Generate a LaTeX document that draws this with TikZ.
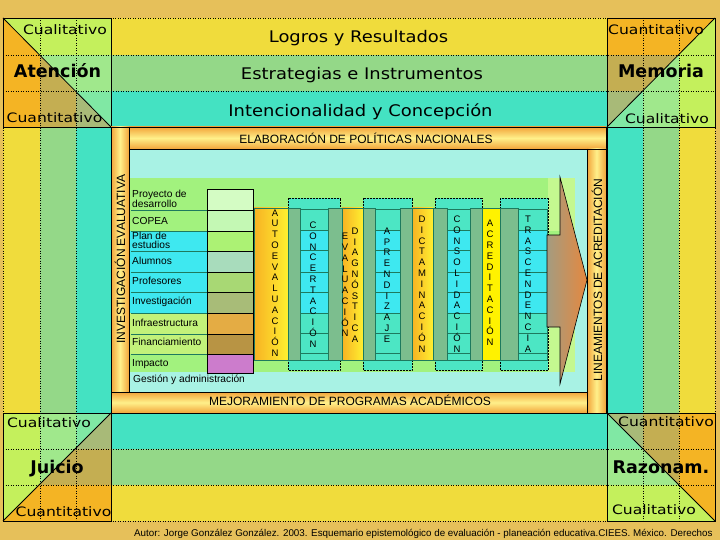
\documentclass[tikz,border=0pt]{standalone}
\usepackage{fontspec}
\setmainfont{DejaVu Sans}
\newfontfamily\arialf{Liberation Sans}
\usepackage{graphicx}
\newcommand{\wsc}[1]{\scalebox{1.2}[1]{#1}}
\newcommand{\wtt}[1]{\scalebox{1.12}[1]{#1}}
\definecolor{bgold}{HTML}{E6C05A}
\definecolor{bandY}{HTML}{F0DC3C}
\definecolor{bandG}{HTML}{94D888}
\definecolor{bandT}{HTML}{44E2C2}
\definecolor{oY}{HTML}{F4B424}
\definecolor{oG}{HTML}{C4AE52}
\definecolor{oT}{HTML}{A8BA78}
\definecolor{gY}{HTML}{C4F05C}
\definecolor{gG}{HTML}{A0E88C}
\definecolor{gT}{HTML}{80E8A4}
\definecolor{aquac}{HTML}{A8F2E4}
\definecolor{lgreen}{HTML}{A2F27E}
\definecolor{lyg}{HTML}{C2F27A}
\definecolor{lyg2}{HTML}{C4F890}
\definecolor{cyanb}{HTML}{3EE8F0}
\definecolor{turqc}{HTML}{4CE6C4}
\definecolor{dstrip}{HTML}{7CBE8E}
\definecolor{tealc}{HTML}{1E7A5E}
\definecolor{barO}{HTML}{F2A43A}
\definecolor{barY}{HTML}{FFF08A}
\definecolor{ycolL}{HTML}{F7B224}
\definecolor{ycolR}{HTML}{FFF030}
\definecolor{ycolP}{HTML}{FFF200}
\definecolor{arL}{HTML}{A49C80}
\definecolor{arR}{HTML}{E6883E}
\definecolor{sw1}{HTML}{D4FCC4}
\definecolor{sw2}{HTML}{C4F8B4}
\definecolor{sw3}{HTML}{ACF274}
\definecolor{sw4}{HTML}{A8DCBC}
\definecolor{sw5}{HTML}{A8D874}
\definecolor{sw6}{HTML}{A8BC78}
\definecolor{sw7}{HTML}{E4AC44}
\definecolor{sw8}{HTML}{B89444}
\definecolor{sw9}{HTML}{CC7CCC}
\begin{document}
\begin{tikzpicture}[x=1pt,y=-1pt,
  dotl/.style={draw=black, dotted, line width=0.5pt},
  frm/.style={draw=black, line width=0.8pt},
  titlet/.style={font=\fontsize{16}{18}\selectfont, anchor=base, inner sep=0pt},
  cornt/.style={font=\fontsize{13}{15}\selectfont, anchor=base, inner sep=0pt},
  boldt/.style={font=\bfseries\fontsize{17.5}{20}\selectfont, anchor=base, inner sep=0pt},
  bartxt/.style={font=\arialf\fontsize{12}{14}\selectfont, inner sep=0pt},
  labt/.style={font=\arialf\fontsize{10.2}{9.2}\selectfont, inner sep=0pt, align=left},
  lett/.style={font=\arialf\fontsize{9.5}{10.8}\selectfont, inner sep=0pt, align=center},
  foott/.style={font=\arialf\fontsize{9.8}{12}\selectfont, inner sep=0pt, anchor=base west},
  hbar/.style={frm, top color=barO, bottom color=barO, middle color=barY},
  vbar/.style={frm, left color=barO, right color=barO, middle color=barY},
  ycol/.style={draw=tealc, line width=0.6pt, left color=ycolL, right color=ycolR},
  dcol/.style={draw=tealc, line width=0.6pt, fill=dstrip},
  rcol/.style={draw=tealc, line width=0.6pt, fill=turqc},
  dbox/.style={draw=black, densely dotted, line width=0.5pt, fill=turqc},
  swt/.style={draw=black, line width=0.6pt},
  rowl/.style={draw=tealc, line width=0.6pt}
]
\useasboundingbox (0,0) rectangle (720,540);
\fill[bgold] (0,0) rectangle (720,540);

% ---- bands
\fill[bandY] (111,18) rectangle (607,55);
\fill[bandG] (111,55) rectangle (607,91);
\fill[bandT] (111,91) rectangle (607,127);
\fill[bandT] (111,413) rectangle (607,449);
\fill[bandG] (111,449) rectangle (607,485);
\fill[bandY] (111,485) rectangle (607,521);
\fill[bandY] (3,127) rectangle (40,413);
\fill[bandG] (40,127) rectangle (76,413);
\fill[bandT] (76,127) rectangle (111,413);
\fill[bandT] (607,127) rectangle (643,413);
\fill[bandG] (643,127) rectangle (679,413);
\fill[bandY] (679,127) rectangle (715,413);

% ---- corner top-left
\begin{scope}
\clip (3,18) -- (3,127) -- (111,127) -- cycle;
\fill[oY] (3,18) rectangle (40,127);
\fill[oG] (40,18) rectangle (76,127);
\fill[oT] (76,18) rectangle (111,127);
\end{scope}
\begin{scope}
\clip (3,18) -- (111,18) -- (111,127) -- cycle;
\fill[gY] (3,18) rectangle (111,55);
\fill[gG] (3,55) rectangle (111,91);
\fill[gT] (3,91) rectangle (111,127);
\end{scope}
% ---- corner top-right
\begin{scope}
\clip (607,18) -- (715,18) -- (607,127) -- cycle;
\fill[oY] (607,18) rectangle (715,55);
\fill[oG] (607,55) rectangle (715,91);
\fill[oT] (607,91) rectangle (715,127);
\end{scope}
\begin{scope}
\clip (715,18) -- (715,127) -- (607,127) -- cycle;
\fill[gT] (607,18) rectangle (643,127);
\fill[gG] (643,18) rectangle (679,127);
\fill[gY] (679,18) rectangle (715,127);
\end{scope}
% ---- corner bottom-left
\begin{scope}
\clip (3,413) -- (111,413) -- (3,521) -- cycle;
\fill[gY] (3,413) rectangle (40,521);
\fill[gG] (40,413) rectangle (76,521);
\fill[gT] (76,413) rectangle (111,521);
\end{scope}
\begin{scope}
\clip (111,413) -- (111,521) -- (3,521) -- cycle;
\fill[oT] (3,413) rectangle (111,449);
\fill[oG] (3,449) rectangle (111,485);
\fill[oY] (3,485) rectangle (111,521);
\end{scope}
% ---- corner bottom-right
\begin{scope}
\clip (607,413) -- (715,413) -- (715,521) -- cycle;
\fill[oT] (607,413) rectangle (643,521);
\fill[oG] (643,413) rectangle (679,521);
\fill[oY] (679,413) rectangle (715,521);
\end{scope}
\begin{scope}
\clip (607,413) -- (607,521) -- (715,521) -- cycle;
\fill[gT] (607,413) rectangle (715,449);
\fill[gG] (607,449) rectangle (715,485);
\fill[gY] (607,485) rectangle (715,521);
\end{scope}

% ---- dotted grid
\draw[dotl] (3,18) rectangle (715,521);
\foreach \yy in {55,91,449,485} { \draw[dotl] (3,\yy) -- (715,\yy); }
\foreach \xx in {40,76,643,679} { \draw[dotl] (\xx,18) -- (\xx,521); }

% ---- corner borders and diagonals
\draw[frm] (3,18) rectangle (111,127);
\draw[frm] (3,18) -- (111,127);
\draw[frm] (607,18) rectangle (715,127);
\draw[frm] (607,127) -- (715,18);
\draw[frm] (3,413) rectangle (111,521);
\draw[frm] (3,521) -- (111,413);
\draw[frm] (607,413) rectangle (715,521);
\draw[frm] (607,413) -- (715,521);

% ---- inner frame
\fill[aquac] (129,149) rectangle (587,392);
\fill[lgreen] (129,178) rectangle (575,372);
\fill[lyg2] (548,178) rectangle (575,231);
\fill[lyg2] (548,313) rectangle (575,372);
\fill[cyanb] (129,231) rectangle (207,313);
\fill[lyg] (129,313) rectangle (207,354);

% bars (pinwheel)
\draw[hbar] (129,127) rectangle (606,149);
\draw[vbar] (587,149) rectangle (606,413);
\draw[hbar] (111,392) rectangle (587,413);
\draw[vbar] (111,127) rectangle (129,392);
\draw[frm] (111,127) rectangle (607,413);

% list rows
\foreach \yy in {210,231,251,272,292,313,334,354} { \draw[rowl] (131,\yy) -- (207,\yy); }
\draw[swt, fill=sw1] (207,189) rectangle (253,210);
\draw[swt, fill=sw2] (207,210) rectangle (253,231);
\draw[swt, fill=sw3] (207,231) rectangle (253,251);
\draw[swt, fill=sw4] (207,251) rectangle (253,272);
\draw[swt, fill=sw5] (207,272) rectangle (253,292);
\draw[swt, fill=sw6] (207,292) rectangle (253,313);
\draw[swt, fill=sw7] (207,313) rectangle (253,334);
\draw[swt, fill=sw8] (207,334) rectangle (253,354);
\draw[swt, fill=sw9] (207,354) rectangle (253,373);

\node[labt, anchor=west] (l1) at (132,199) {Proyecto de\\desarrollo};
\node[labt, anchor=base west] (l2) at (132,225) {COPEA};
\node[labt, anchor=west] (l3) at (132,240.5) {Plan de\\estudios};
\node[labt, anchor=base west] (l4) at (132,264) {Alumnos};
\node[labt, anchor=base west] (l5) at (132,284) {Profesores};
\node[labt, anchor=base west] (l6) at (132,304.3) {Investigación};
\node[labt, anchor=base west] (l7) at (132,326.7) {Infraestructura};
\node[labt, anchor=base west] (l8) at (132,345.7) {Financiamiento};
\node[labt, anchor=base west] (l9) at (132,366) {Impacto};
\node[labt, anchor=base west] (l10) at (133,382.7) {Gestión y administración};

% dotted boxes
\draw[dbox] (288,198) rectangle (340,370);
\draw[dbox] (363,198) rectangle (412,370);
\draw[dbox] (435,198) rectangle (482,370);
\draw[dbox] (500,198) rectangle (548,370);

% dark strips
\foreach \xa/\xb in {288/300,328/342,363/375,400/412,433/447,470/482,500/518}
  { \draw[dcol] (\xa,208) rectangle (\xb,360); }

% yellow columns
\draw[ycol] (254,208) rectangle (288,360);
\draw[ycol] (342,208) rectangle (363,360);
\draw[ycol] (412,208) rectangle (433,360);
\draw[draw=tealc, line width=0.6pt, fill=ycolP] (482,208) rectangle (500,360);

% row columns
\foreach \xa/\xb in {300/328,375/400,447/470,518/547}
{
  \draw[rcol] (\xa,209) rectangle (\xb,360);
  \fill[cyanb] (\xa,230) rectangle (\xb,313);
  \foreach \yy in {230,250,272,292,313,333,353} { \draw[rowl] (\xa,\yy) -- (\xb,\yy); }
  \draw[draw=tealc, line width=0.6pt] (\xa,209) rectangle (\xb,360);
}

% arrow
\draw[draw=black, line width=0.6pt, left color=arL, right color=arR]
  (547,235) -- (560,235) -- (560,177) -- (587,280) -- (560,384) -- (560,327) -- (547,327) -- cycle;

% column letters
\node[lett] (c1) at (275,283) {A\\U\\T\\O\\E\\V\\A\\L\\U\\A\\C\\I\\Ó\\N};
\node[lett] (c2) at (313,284.5) {C\\O\\N\\C\\E\\R\\T\\A\\C\\I\\Ó\\N};
\node[lett] (c3a) at (345,285) {E\\V\\A\\L\\U\\A\\C\\I\\Ó\\N};
\node[lett] (c3b) at (355,285) {D\\I\\A\\G\\N\\Ó\\S\\T\\I\\C\\A};
\node[lett] (c4) at (387,285) {A\\P\\R\\E\\N\\D\\I\\Z\\A\\J\\E};
\node[lett] (c5) at (422,284) {D\\I\\C\\T\\A\\M\\I\\N\\A\\C\\I\\Ó\\N};
\node[lett] (c6) at (457,284) {C\\O\\N\\S\\O\\L\\I\\D\\A\\C\\I\\Ó\\N};
\node[lett] (c7) at (490,283) {A\\C\\R\\E\\D\\I\\T\\A\\C\\I\\Ó\\N};
\node[lett] (c8) at (528,284) {T\\R\\A\\S\\C\\E\\N\\D\\E\\N\\C\\I\\A};

% bar texts
\node[bartxt, anchor=base] (elab) at (366,143.3) {ELABORACIÓN DE POLÍTICAS NACIONALES};
\node[bartxt, anchor=base] (mejo) at (350,405) {MEJORAMIENTO DE PROGRAMAS ACADÉMICOS};
\node[bartxt, rotate=90] (inve) at (120,259) {INVESTIGACIÓN EVALUATIVA};
\node[bartxt, rotate=90] (line) at (597,280) {LINEAMIENTOS DE ACREDITACIÓN};

% band titles
\node[titlet] (t1) at (358.5,42.7) {\wtt{Logros y Resultados}};
\node[titlet] (t2) at (362,80) {\wtt{Estrategias e Instrumentos}};
\node[titlet] (t3) at (360.5,116.7) {\wtt{Intencionalidad y Concepción}};

% corner texts
\node[cornt] (a1) at (65,35) {\wsc{Cualitativo}};
\node[boldt] (a2) at (57.5,77.3) {Atención};
\node[cornt] (a3) at (54.5,122.7) {\wsc{Cuantitativo}};
\node[cornt] (b1) at (656,35) {\wsc{Cuantitativo}};
\node[boldt] (b2) at (661,77.3) {Memoria};
\node[cornt] (b3) at (667,123.3) {\wsc{Cualitativo}};
\node[cornt] (d1) at (49,427.3) {\wsc{Cualitativo}};
\node[boldt] (d2) at (57,473.3) {Juicio};
\node[cornt] (d3) at (63.5,516) {\wsc{Cuantitativo}};
\node[cornt] (e1) at (666,426.7) {\wsc{Cuantitativo}};
\node[boldt] (e2) at (661,473.3) {Razonam.};
\node[cornt] (e3) at (654,514) {\wsc{Cualitativo}};

% footer
\node[foott] (foot) at (134,536.5) {Autor: Jorge González González. 2003. Esquemario epistemológico de evaluación - planeación educativa.CIEES. México. Derechos};
\end{tikzpicture}
\end{document}
